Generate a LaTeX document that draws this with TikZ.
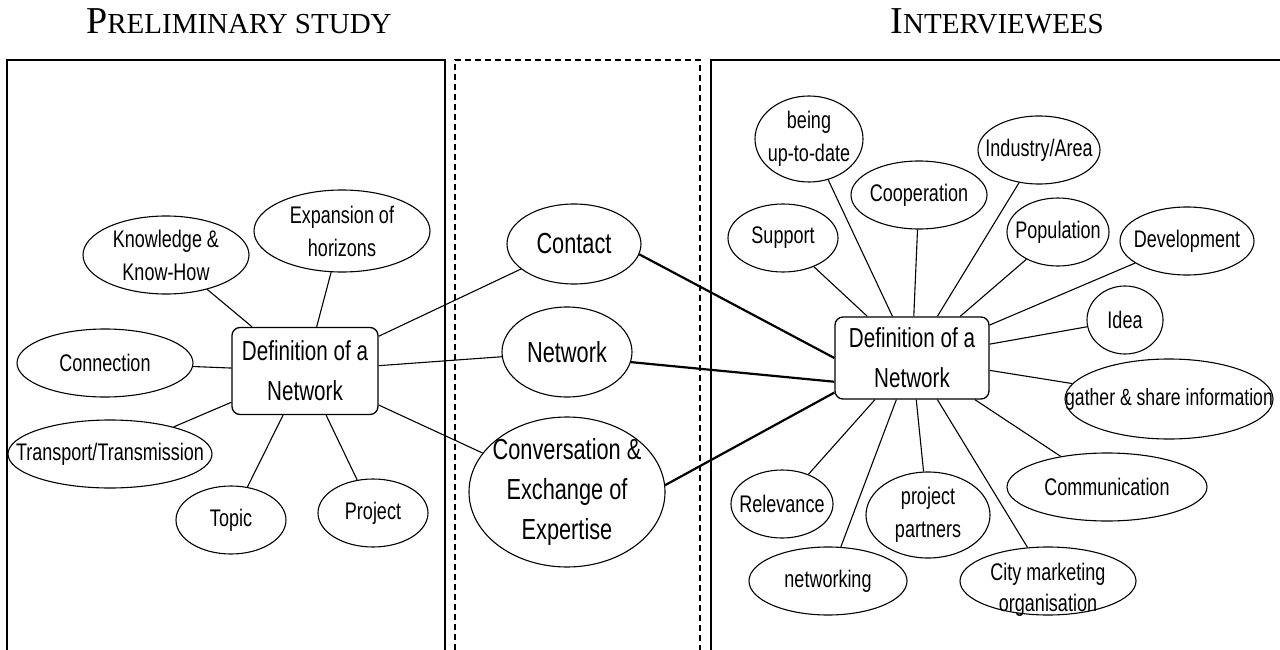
\documentclass[tikz,border=0pt]{standalone}
\usepackage{fontspec}
\usetikzlibrary{shapes.geometric}
\newfontfamily\nodefont{Liberation Sans}[FakeStretch=0.75]
\newfontfamily\titlefont{Liberation Serif}
\begin{document}
\begin{tikzpicture}[x=1pt,y=-1pt,
  ell/.style={draw, ellipse, line width=1.1pt, inner sep=0pt},
  sat/.style={font={\nodefont\fontsize{24}{33}\selectfont}, align=center, inner sep=0pt},
  midtxt/.style={font={\nodefont\fontsize{29}{40}\selectfont}, align=center, inner sep=0pt},
  dbox/.style={draw, rounded corners=8pt, line width=1.3pt, inner sep=0pt, align=center,
    font={\nodefont\fontsize{27.5}{40}\selectfont}},
  conn/.style={line width=1.1pt},
  strong/.style={line width=2.2pt},
  panel/.style={line width=1.6pt},
  dpanel/.style={line width=1.3pt, dash pattern=on 6pt off 4pt},
  ttl/.style={font=\titlefont, inner sep=0pt}]
\useasboundingbox (0,0) rectangle (1280,650);
\clip (0,0) rectangle (1280,650);
% panels
\draw[panel] (7,700) -- (7,60) -- (445,60) -- (445,700);
\draw[dpanel] (455,700) -- (455,60) -- (700,60) -- (700,700);
\draw[panel] (711,700) -- (711,60) -- (1300,60);
% titles
\node[ttl, anchor=base west] (t1) at (86,34) {{\fontsize{38}{40}\selectfont P}{\fontsize{29}{32}\selectfont RELIMINARY STUDY}};
\node[ttl, anchor=base east] (t2) at (1104,34) {{\fontsize{38}{40}\selectfont I}{\fontsize{29}{32}\selectfont NTERVIEWEES}};
% left panel
\node[dbox, minimum width=146pt, minimum height=87pt] (defL) at (305,371) {Definition of a\\Network};
\node[ell, minimum width=166pt, minimum height=78pt, label={[sat]center:{Knowledge \&\\Know-How}}] (know) at (166,255) {};
\node[ell, minimum width=176pt, minimum height=82pt, label={[sat]center:{Expansion of\\horizons}}] (exp) at (342,231) {};
\node[ell, minimum width=176pt, minimum height=68pt, label={[sat]center:{Connection}}] (con) at (105,363) {};
\node[ell, minimum width=204pt, minimum height=68pt, label={[sat]center:{Transport/Transmission}}] (trans) at (110,454) {};
\node[ell, minimum width=110pt, minimum height=68pt, label={[sat]center:{Topic}}] (topic) at (231,520) {};
\node[ell, minimum width=110pt, minimum height=68pt, label={[sat]center:{Project}}] (proj) at (373,513) {};
\foreach \n in {know,exp,con,trans,topic,proj} \draw[conn] (defL) -- (\n);
% middle
\node[ell, minimum width=134pt, minimum height=80pt, label={[midtxt]center:{Contact}}] (contact) at (574,244) {};
\node[ell, minimum width=130pt, minimum height=90pt, label={[midtxt]center:{Network}}] (net) at (567,352) {};
\node[ell, minimum width=196pt, minimum height=150pt, label={[midtxt]center:{Conversation \&\\Exchange of\\Expertise}}] (conv) at (567,492) {};
\draw[conn] (defL) -- (contact);
\draw[conn] (defL) -- (net);
\draw[conn] (defL) -- (conv);
% right panel
\node[dbox, minimum width=154pt, minimum height=82pt] (defR) at (912,358) {Definition of a\\Network};
\node[ell, minimum width=108pt, minimum height=86pt, label={[sat]center:{being\\up-to-date}}] (upd) at (809,139) {};
\node[ell, minimum width=136pt, minimum height=68pt, label={[sat]center:{Cooperation}}] (coop) at (919,195) {};
\node[ell, minimum width=122pt, minimum height=68pt, label={[sat]center:{Industry/Area}}] (ind) at (1039,150) {};
\node[ell, minimum width=110pt, minimum height=68pt, label={[sat]center:{Support}}] (supp) at (783,238) {};
\node[ell, minimum width=102pt, minimum height=68pt, label={[sat]center:{Population}}] (pop) at (1058,232) {};
\node[ell, minimum width=134pt, minimum height=68pt, label={[sat]center:{Development}}] (dev) at (1187,241) {};
\node[ell, minimum width=76pt, minimum height=68pt, label={[sat]center:{Idea}}] (idea) at (1125,320) {};
\node[ell, minimum width=208pt, minimum height=80pt, label={[sat, font={\nodefont\fontsize{23.5}{33}\selectfont}]center:{gather \& share information}}] (gath) at (1169,399) {};
\node[ell, minimum width=200pt, minimum height=68pt, label={[sat]center:{Communication}}] (comm) at (1107,487) {};
\node[ell, minimum width=176pt, minimum height=68pt, label={[sat, font={\nodefont\fontsize{24}{31}\selectfont}, yshift=-9pt]center:{City marketing\\organisation}}] (cm) at (1048,581) {};
\node[ell, minimum width=102pt, minimum height=68pt, label={[sat]center:{Relevance}}] (rel) at (782,504) {};
\node[ell, minimum width=124pt, minimum height=86pt, label={[sat]center:{project\\partners}}] (pp) at (928,515) {};
\node[ell, minimum width=158pt, minimum height=68pt, label={[sat]center:{networking}}] (netw) at (828,581) {};
\foreach \n in {upd,coop,ind,supp,pop,dev,idea,gath,comm,cm,rel,pp,netw} \draw[conn] (defR) -- (\n);
% links middle -> right
\draw[strong] (contact.-9) -- (defR.west);
\draw[strong] (net.-9) -- (defR.197);
\draw[strong] (conv.4) -- (defR.204);
\end{tikzpicture}
\end{document}
